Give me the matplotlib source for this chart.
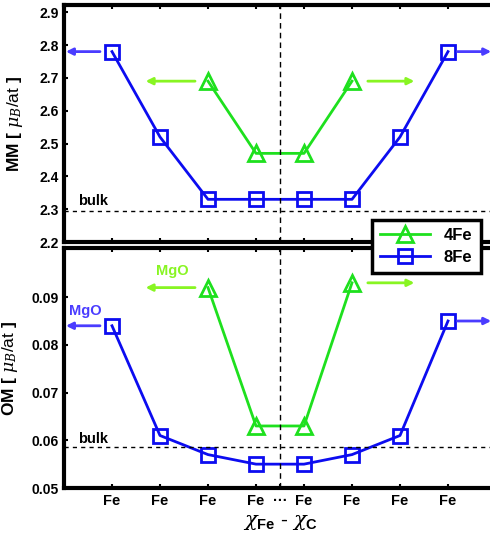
import matplotlib
matplotlib.use('Agg')
from matplotlib import pyplot as plt

# data
positions = [1, 2, 3, 4, 5, 6, 7, 8]
pos_4fe = [3, 4, 5, 6]
tick_labels = ['Fe'] * 8

mm_8fe = [2.78, 2.52, 2.33, 2.33, 2.33, 2.33, 2.52, 2.78]
mm_4fe = [2.69, 2.47, 2.47, 2.69]
mm_bulk = 2.295

om_8fe = [0.084, 0.061, 0.057, 0.055, 0.055, 0.057, 0.061, 0.085]
om_4fe = [0.092, 0.063, 0.063, 0.093]
om_bulk = 0.0585

plt.rcParams['font.family'] = ['Liberation Sans', 'DejaVu Sans']
plt.rcParams['mathtext.fontset'] = 'custom'
plt.rcParams['mathtext.it'] = 'DejaVu Serif:italic'
plt.rcParams['mathtext.rm'] = 'Liberation Sans'
plt.rcParams['mathtext.bf'] = 'Liberation Sans:bold'

green = '#1ee01e'
green_arrow = '#88f522'
blue = '#0c0cf0'
blue_arrow = '#4a3cff'

fig = plt.figure(figsize=(4.9, 5.4), dpi=100)
ax1 = fig.add_axes([64/490, 1-242/540, 432/490, 237/540])
ax2 = fig.add_axes([64/490, 1-488/540, 432/490, 240/540])


def arrow(ax, x0, x1, y, c):
    ax.annotate('', xy=(x1, y), xytext=(x0, y),
                arrowprops=dict(arrowstyle='-|>', color=c, lw=2,
                                mutation_scale=10, shrinkA=0, shrinkB=0))


for ax, s8, s4, bulk in [(ax1, mm_8fe, mm_4fe, mm_bulk), (ax2, om_8fe, om_4fe, om_bulk)]:
    ax.plot(pos_4fe, s4, color=green, lw=2, marker='^', ms=11, mfc='none',
            mec=green, mew=2, label='4Fe')
    ax.plot(positions, s8, color=blue, lw=2, marker='s', ms=9.5, mfc='none',
            mec=blue, mew=2, label='8Fe')
    ax.axhline(bulk, color='black', ls=(0, (3, 3)), lw=1)
    ax.axvline(4.5, color='black', ls=(0, (4, 3)), lw=1)
    arrow(ax, positions[0] - 0.25, 0.04, s8[0], blue_arrow)
    arrow(ax, positions[-1] + 0.2, 8.9, s8[-1], blue_arrow)
    arrow(ax, pos_4fe[0] - 0.27, 1.7, s4[0], green_arrow)
    arrow(ax, pos_4fe[-1] + 0.33, 7.3, s4[-1], green_arrow)
    ax.set_xlim(0, 9)
    ax.set_xticks(positions + [4.5])
    ax.tick_params(direction='in', top=True, right=True, length=3, width=1.5,
                   labelsize=10, pad=4)
    for sp in ax.spines.values():
        sp.set_linewidth(3)

ax1.text(0.29, mm_bulk + 0.008, 'bulk', fontsize=10.5, fontweight='bold', va='bottom')
ax2.text(0.29, om_bulk + 0.0003, 'bulk', fontsize=10.5, fontweight='bold', va='bottom')

ax1.set_ylim(2.2, 2.922)
ax1.set_yticks([2.2, 2.3, 2.4, 2.5, 2.6, 2.7, 2.8, 2.9])
ax1.set_yticklabels(['2.2', '2.3', '2.4', '2.5', '2.6', '2.7', '2.8', '2.9'], fontweight='bold')
ax1.set_xticklabels([])
ax1.set_ylabel(r'MM [ $\mu_{B}\mathrm{/at}$ ]', fontsize=12.5, fontweight='bold', labelpad=10)

ax2.set_ylim(0.05, 0.1003)
ax2.set_yticks([0.05, 0.06, 0.07, 0.08, 0.09])
ax2.set_yticklabels(['0.05', '0.06', '0.07', '0.08', '0.09'], fontweight='bold')
ax2.set_xticklabels(tick_labels + ['\u00b7\u00b7\u00b7'], fontweight='bold', fontsize=10.5)
ax2.set_ylabel(r'OM [ $\mu_{B}\mathrm{/at}$ ]', fontsize=12.5, fontweight='bold', labelpad=8)
ax2.set_xlabel(r'$\chi_{\mathbf{Fe}}$ - $\chi_{\mathbf{C}}$', fontsize=15, labelpad=4)

ax2.text(2.25, 0.0955, 'MgO', color=green_arrow, fontsize=10.5, fontweight='bold',
         ha='center', va='center')
ax2.text(0.44, 0.0871, 'MgO', color=blue_arrow, fontsize=10.5, fontweight='bold',
         ha='center', va='center')

handles, labels = ax1.get_legend_handles_labels()
leg = fig.legend(handles, labels, loc='upper left', bbox_to_anchor=(372/490, 1-220/540),
                 frameon=True, fancybox=False, edgecolor='black', framealpha=1,
                 handlelength=3.0, prop={'weight': 'bold', 'size': 12}, borderpad=0.5,
                 labelspacing=0.4, handletextpad=0.8, borderaxespad=0)
leg.get_frame().set_linewidth(2.5)

fig.savefig('out.png', dpi=100)
